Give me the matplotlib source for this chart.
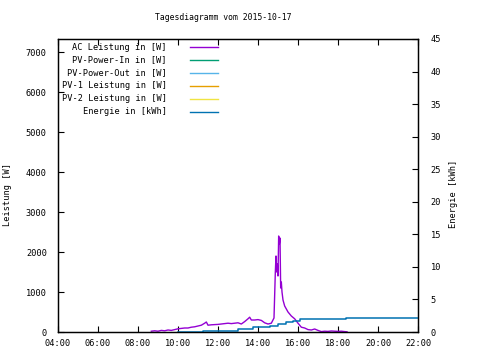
import matplotlib
matplotlib.use('Agg')
import matplotlib.pyplot as plt

# AC power readings (time of day, watts)
ac_time = ['08:40', '08:50', '09:00', '09:10', '09:20', '09:30', '09:40', '09:50',
           '10:00', '10:10', '10:20', '10:30', '10:40', '10:50', '11:00', '11:10',
           '11:20', '11:25', '11:30', '11:40', '12:00', '12:10', '12:20', '12:30',
           '12:40', '12:50', '13:00', '13:10', '13:20', '13:30', '13:35', '13:40',
           '13:50', '14:00', '14:10', '14:20', '14:30', '14:40', '14:48', '14:52',
           '14:54', '14:56', '14:58', '15:00', '15:02', '15:04', '15:06', '15:08',
           '15:10', '15:12', '15:15', '15:20', '15:30', '15:40', '15:50', '16:00',
           '16:10', '16:20', '16:30', '16:40', '16:50', '17:00', '17:10', '17:20',
           '17:30', '17:40', '17:50', '18:00', '18:10', '18:20', '18:27']
ac_power = [20, 30, 20, 40, 30, 50, 40, 60,
            80, 90, 100, 100, 120, 130, 150, 170,
            220, 250, 170, 180, 190, 200, 210, 220,
            210, 220, 230, 200, 260, 330, 370, 300,
            300, 310, 290, 230, 200, 220, 350, 1500,
            1900, 1500, 1700, 1400, 2400, 2200, 2350, 1100,
            1250, 1000, 800, 650, 500, 400, 330, 220,
            120, 100, 60, 50, 75, 40, 10, 20,
            15, 25, 20, 15, 20, 10, 5]

# energy counter (kWh)
en_time = ['10:00', '11:15', '12:00', '13:00', '13:45', '14:35', '15:00', '15:25',
           '15:45', '16:05', '18:25', '22:00']
energy = [0.0, 0.1, 0.2, 0.45, 0.7, 0.9, 1.2, 1.55, 1.7, 1.95, 2.1, 2.1]

# series without data on this day
pv_in, pv_out, pv1, pv2 = [], [], [], []

labels = ['AC Leistung in [W]', 'PV-Power-In in [W]', 'PV-Power-Out in [W]',
          'PV-1 Leistung in [W]', 'PV-2 Leistung in [W]', 'Energie in [kWh]']
colors = ['#9400d3', '#009e73', '#56b4e9', '#e69f00', '#f0e442', '#0072b2']


def hours(ts):
    return [int(t[:2]) + int(t[3:]) / 60 for t in ts]


plt.rcParams['font.family'] = 'DejaVu Sans Mono'
plt.rcParams['font.size'] = 6.2

fig = plt.figure(figsize=(4.8, 3.6), dpi=100)
ax = fig.add_axes([58 / 480, 28 / 360, 360 / 480, 293 / 360])
ax2 = ax.twinx()

ax.plot(hours(ac_time), ac_power, color=colors[0], lw=1.0)
ax.plot(pv_in, pv_in, color=colors[1])
ax.plot(pv_out, pv_out, color=colors[2])
ax.plot(pv1, pv1, color=colors[3])
ax.plot(pv2, pv2, color=colors[4])
ax2.plot(hours(en_time), energy, color=colors[5], lw=1.1, drawstyle='steps-post')

ax.set_xlim(4, 22)
ax.set_ylim(0, 7325)
ax2.set_ylim(0, 45)
ax.set_xticks(range(4, 23, 2))
ax.set_xticklabels(['%02d:00' % h for h in range(4, 23, 2)])
ax.set_yticks(range(0, 7001, 1000))
ax2.set_yticks(range(0, 46, 5))

ax.tick_params(direction='in', top=True, length=4, width=0.8, pad=8)
ax.tick_params(axis='x', pad=5)
ax2.tick_params(direction='in', length=4, width=0.8, pad=9)
for a in (ax, ax2):
    for s in a.spines.values():
        s.set_linewidth(0.9)

ax.set_ylabel('Leistung [W]')
ax.yaxis.set_label_coords(-0.127, 0.47)
ax2.set_ylabel('Energie [kWh]')
ax2.yaxis.set_label_coords(1.086, 0.47)

fig.text(223 / 480, 1 - 18 / 360, 'Tagesdiagramm vom 2015-10-17', ha='center', va='center',
         fontsize=5.9)

# key, gnuplot style: text right aligned, sample line to the right
for i, (lab, c) in enumerate(zip(labels, colors)):
    y = 1 - (47 + i * 12.9 - 39) / 293
    ax.text((167 - 58) / 360, y, lab, ha='right', va='center', transform=ax.transAxes)
    ax.plot([(190 - 58) / 360, (218 - 58) / 360], [y, y], color=c, lw=1.0,
            transform=ax.transAxes)

fig.savefig('out.png', dpi=100)
